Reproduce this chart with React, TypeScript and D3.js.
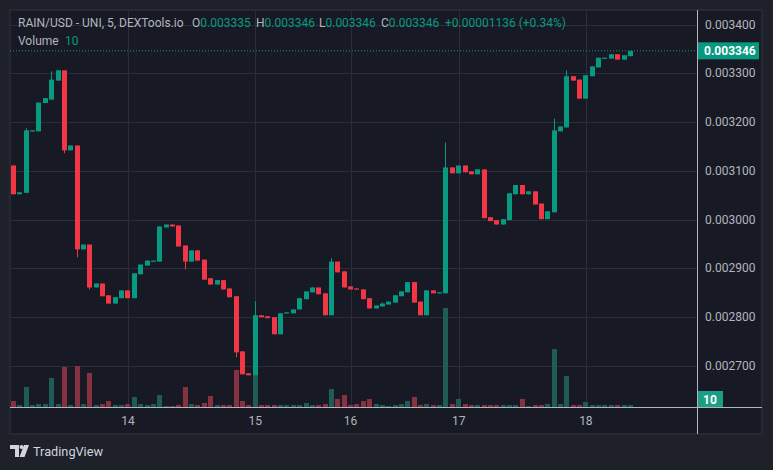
import React from "react";
import * as d3 from "d3";

// Prices in micro-units (1e-6)
const PRICE_UNIT = 1e-6;
const openVals = [3111,3052,3055,3181,3181,3239,3246,3285,3306,3142,3152,2939,2949,2861,2869,2845,2828,2839,2855,2839,2888,2906,2914,2914,2984,2990,2988,2947,2914,2937,2918,2880,2867,2876,2859,2843,2730,2685,2681,2804,2802,2800,2765,2808,2808,2816,2837,2851,2861,2849,2804,2914,2894,2863,2859,2857,2839,2818,2822,2826,2830,2843,2851,2872,2832,2804,2855,2849,2849,3107,3095,3111,3099,3093,3103,3005,2999,2990,2999,3052,3071,3052,3058,3033,3001,3015,3181,3189,3294,3287,3248,3294,3312,3330,3330,3339,3328,3335];
const highVals = [3111,3056,3187,3183,3240,3249,3304,3306,3306,3152,3152,2949,2949,2869,2869,2845,2841,2855,2855,2890,2908,2916,2916,2986,2990,2990,2988,2947,2937,2937,2918,2880,2876,2876,2859,2843,2730,2685,2833,2804,2802,2800,2808,2810,2816,2839,2853,2861,2861,2849,2921,2914,2894,2863,2859,2857,2839,2824,2830,2832,2845,2853,2872,2872,2832,2855,2855,2851,3158,3107,3111,3111,3099,3103,3103,3005,2999,3001,3054,3071,3071,3058,3058,3033,3017,3207,3191,3306,3294,3287,3296,3314,3332,3332,3339,3339,3337,3346];
const lowVals = [3052,3052,3055,3181,3181,3239,3246,3285,3136,3142,2923,2939,2857,2861,2843,2828,2828,2839,2839,2839,2888,2906,2914,2914,2984,2986,2945,2898,2914,2916,2877,2867,2867,2857,2841,2718,2683,2681,2681,2800,2798,2765,2765,2808,2808,2816,2837,2851,2847,2804,2804,2892,2861,2857,2857,2837,2818,2818,2822,2826,2830,2843,2851,2830,2804,2804,2849,2849,2849,3095,3095,3097,3093,3093,3003,2997,2990,2990,2999,3052,3052,3052,3031,3001,3001,3015,3181,3189,3285,3248,3248,3294,3312,3330,3330,3328,3328,3335];
const closeVals = [3052,3056,3183,3183,3240,3249,3287,3306,3142,3152,2939,2949,2861,2869,2843,2828,2841,2855,2839,2890,2908,2916,2916,2986,2990,2986,2945,2914,2937,2916,2877,2867,2876,2857,2841,2728,2683,2681,2804,2800,2798,2765,2808,2810,2816,2839,2853,2861,2847,2804,2914,2892,2861,2857,2857,2837,2818,2824,2828,2832,2845,2853,2872,2830,2804,2855,2849,2851,3107,3095,3111,3097,3093,3103,3003,2997,2990,3001,3054,3071,3052,3058,3031,3001,3017,3183,3191,3294,3285,3248,3296,3314,3332,3332,3339,3328,3337,3346];
const volumeVals = [30,10,100,10,15,15,145,15,200,10,205,15,170,10,15,30,10,10,15,50,15,10,15,60,5,5,10,100,15,10,20,55,10,10,10,185,30,10,160,10,10,10,10,10,10,10,20,10,10,15,90,40,60,10,15,30,40,15,10,5,10,15,30,50,10,15,10,10,495,15,40,15,10,10,10,10,10,10,10,10,40,5,10,10,15,290,15,155,10,10,25,10,10,10,10,10,10,10];

const priceTicks = [0.0027, 0.0028, 0.0029, 0.003, 0.0031, 0.0032, 0.0033, 0.0034];
const timeTickIdx = [18, 38, 53, 70, 90];
const timeTickLabels = ["14", "15", "16", "17", "18"];

const header = {
  title: "RAIN/USD - UNI, 5, DEXTools.io",
  o: "0.003335", h: "0.003346", l: "0.003346", c: "0.003346",
  change: "+0.00001136 (+0.34%)",
  volume: "10",
};
const lastPriceLabel = "0.003346";
const lastVolumeLabel = "10";

const W = 773, H = 470;
const UP = "#089981", DOWN = "#f23645";
const UP_VOL = "#1f5c56", DOWN_VOL = "#863241";
const GRID = "#2a2e39";
const TEXT = "#b2b5be";
const FONT = "Roboto, 'Liberation Sans', sans-serif";

export default function App() {
  const n = openVals.length;
  const plotL = 10, plotR = 697, plotT = 10, plotB = 407, panelR = 762, panelB = 434;
  const x = d3.scaleLinear().domain([0, n - 1]).range([13.5, 630.4]);
  const y = d3.scaleLinear().domain([0.0027, 0.0034]).range([366, 24.5]);
  const yv = d3.scaleLinear().domain([0, 495]).range([plotB, 308]);
  const data = d3.range(n).map((i) => ({
    i,
    o: openVals[i] * PRICE_UNIT,
    h: highVals[i] * PRICE_UNIT,
    l: lowVals[i] * PRICE_UNIT,
    c: closeVals[i] * PRICE_UNIT,
    v: volumeVals[i],
  }));
  const bw = 5;
  const lastClose = data[n - 1].c;
  const lastY = y(lastClose);

  return (
    <svg width={W} height={H} style={{ position: "absolute", left: 0, top: 0, display: "block" }} fontFamily={FONT}>
      <rect x={0} y={0} width={W} height={H} fill="#1e212a" />
      <rect x={plotL} y={plotT} width={panelR - plotL} height={panelB - plotT} fill="#171a24" stroke="#2a2e39" strokeWidth={1.5} />
      {/* grid */}
      {priceTicks.map((p) => (
        <line key={"g" + p} x1={plotL} x2={plotR} y1={Math.round(y(p)) + 0.5} y2={Math.round(y(p)) + 0.5} stroke={GRID} strokeWidth={1} />
      ))}
      {timeTickIdx.map((t) => (
        <line key={"v" + t} x1={Math.round(x(t)) + 0.5} x2={Math.round(x(t)) + 0.5} y1={plotT} y2={plotB} stroke={GRID} strokeWidth={1} />
      ))}
      {/* volume */}
      {data.map((d) => {
        const left = Math.round(x(d.i) - bw / 2);
        const top = yv(d.v);
        return (
          <rect key={"vol" + d.i} x={left} y={top} width={bw} height={Math.max(1, plotB - top)} fill={d.c >= d.o ? UP_VOL : DOWN_VOL} />
        );
      })}
      {/* candles */}
      {data.map((d) => {
        const left = Math.round(x(d.i) - bw / 2);
        const col = d.c >= d.o ? UP : DOWN;
        const bt = Math.min(y(d.o), y(d.c));
        const bb = Math.max(y(d.o), y(d.c));
        return (
          <g key={"c" + d.i}>
            <rect x={left + 2} y={y(d.h)} width={1} height={Math.max(0, y(d.l) - y(d.h))} fill={col} />
            <rect x={left} y={bt} width={bw} height={Math.max(1.2, bb - bt)} fill={col} />
          </g>
        );
      })}
      {/* last price dotted line */}
      <line x1={plotL} x2={plotR} y1={lastY} y2={lastY} stroke={UP} strokeWidth={1} strokeDasharray="1 2" />
      {/* separators */}
      <line x1={plotR + 0.5} x2={plotR + 0.5} y1={plotT} y2={panelB} stroke="#b2b5be" strokeWidth={1} />
      <line x1={plotL} x2={panelR} y1={plotB + 0.5} y2={plotB + 0.5} stroke="#b2b5be" strokeWidth={1} />
      {/* price axis labels */}
      {priceTicks.map((p) => (
        <text key={"pt" + p} x={705} y={y(p) + 4} fontSize={12} fill={TEXT}>
          {p.toFixed(6)}
        </text>
      ))}
      <rect x={plotR + 1} y={lastY - 8.5} width={61} height={17} fill={UP} />
      <text x={704} y={lastY + 4.5} fontSize={12} fontWeight="bold" fill="#ffffff">{lastPriceLabel}</text>
      <rect x={plotR + 1} y={391} width={25} height={16} fill="#1a9e86" />
      <text x={710} y={403.5} fontSize={12} fontWeight="bold" fill="#ffffff" textAnchor="middle">{lastVolumeLabel}</text>
      {/* time axis labels */}
      {timeTickIdx.map((t, k) => (
        <text key={"tt" + t} x={x(t)} y={425} fontSize={12} fill={TEXT} textAnchor="middle">
          {timeTickLabels[k]}
        </text>
      ))}
      {/* header */}
      <text y={27} fontSize={12} fill={TEXT}>
        <tspan x={18}>{header.title}</tspan>
        <tspan x={192}>O</tspan><tspan fill={UP}>{header.o}</tspan>
        <tspan x={256}>H</tspan><tspan fill={UP}>{header.h}</tspan>
        <tspan x={319}>L</tspan><tspan fill={UP}>{header.l}</tspan>
        <tspan x={381}>C</tspan><tspan fill={UP}>{header.c}</tspan>
        <tspan x={445} fill={UP}>{header.change}</tspan>
      </text>
      <text y={45} fontSize={12} fill={TEXT}>
        <tspan x={18}>Volume</tspan>
        <tspan x={65} fill={UP}>{header.volume}</tspan>
      </text>
      {/* TradingView logo */}
      <g fill="#d1d4dc">
        <path d="M10 445 H19 V457 H15 V449 H10 Z" />
        <circle cx={21.5} cy={447} r={2} />
        <path d="M24 445 H29 L24.5 457 H19.5 Z" />
      </g>
      <text x={33} y={456} fontSize={13} fill="#d1d4dc" textLength={70} lengthAdjust="spacingAndGlyphs">TradingView</text>
    </svg>
  );
}
